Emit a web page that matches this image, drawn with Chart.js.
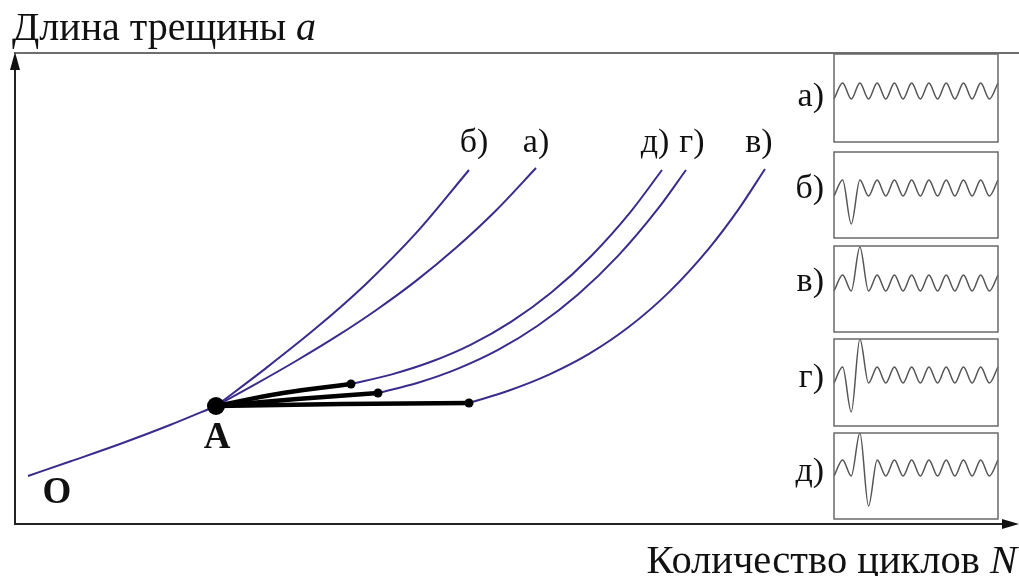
<!DOCTYPE html>
<html>
<head>
<meta charset="utf-8">
<script src="https://cdn.jsdelivr.net/npm/chart.js@4.4.1/dist/chart.umd.min.js"></script>
<style>
  html, body { margin: 0; padding: 0; background: #fff; overflow: hidden; }
  #wrap { position: relative; width: 1019px; height: 576px; }
  #wrap canvas { position: absolute; }
</style>
</head>
<body>
<div id="wrap">
  <canvas id="main" width="1019" height="576" style="left:0;top:0"></canvas>
</div>
<script>
// Crack length a versus number of load cycles N, schematic units.
// Each curve is a list of [N, a] points.
const growthOA = [[13, 48], [55, 62.5], [105, 80], [155, 99], [201, 118]];
const growthA  = [[201, 118], [241, 140.1], [281, 163], [321, 187.3], [361, 213.8], [401, 243.1],
                  [441, 276.2], [481, 313.5], [521, 356]];
const growthB  = [[201, 118], [251, 155.9], [301, 195.9], [351, 240.1], [401, 290.8], [454, 354]];
const growthV  = [[454, 121], [494, 133.5], [534, 149.4], [574, 170.1], [614, 197.2], [654, 231.9],
                  [694, 275.7], [724, 315.4], [750, 355]];
const growthG  = [[363, 131], [403, 141.3], [443, 155.4], [483, 174.1], [523, 198.5], [563, 229.5],
                  [603, 268.1], [643, 315.3], [671, 354]];
const growthD  = [[336, 140], [376, 149.4], [416, 162.2], [456, 179.4], [496, 202.1], [536, 231.2],
                  [576, 267.8], [616, 312.7], [647, 354]];

// Retardation after the overload applied at point A
const delayV = [[201, 118], [327, 120], [454, 121]];
const delayG = [[201, 118], [282, 125], [363, 131]];
const delayD = [[201, 118], [268, 131], [336, 140]];

const pointA = [201, 118];

const curveNames = ['а)', 'б)', 'в)', 'г)', 'д)'];

// Load histories: successive extrema of the stress signal (half-cycle steps)
const loadA = [-8, 8, -8, 8, -8, 8, -8, 8, -8, 8, -8, 8, -8, 8, -8, 8, -8, 8, -8, 8];
const loadB = [-8, 8, -36, 8, -8, 8, -8, 8, -8, 8, -8, 8, -8, 8, -8, 8, -8, 8, -8, 8];
const loadV = [-8, 8, -8, 36, -8, 8, -8, 8, -8, 8, -8, 8, -8, 8, -8, 8, -8, 8, -8, 8];
const loadG = [-8, 8, -37, 36, -8, 8, -8, 8, -8, 8, -8, 8, -8, 8, -8, 8, -8, 8, -8, 8];
const loadD = [-8, 8, -8, 35, -38, 8, -8, 8, -8, 8, -8, 8, -8, 8, -8, 8, -8, 8, -8, 8];

// ---- layout ----
const SERIF = '"Liberation Serif", "Times New Roman", serif';
const purple = '#3b2b8c';
const curveEnds = { 'а)': growthA, 'б)': growthB, 'в)': growthV, 'г)': growthG, 'д)': growthD };
const curveLabelShift = { 'а)': 0, 'б)': 5, 'в)': -6, 'г)': 6, 'д)': -7 };
const insetBoxes = [ // top, bottom, signal mid-line (page pixels)
  [54, 142, 91], [152, 238, 188], [246, 332, 283], [339, 426, 375], [433, 519, 468]
];
const insetLabelBase = [106, 198, 291, 387, 481];

const toXY = arr => arr.map(([x, y]) => ({ x, y }));

const frame = {
  id: 'frame',
  beforeDatasetsDraw(chart) {
    const { ctx, chartArea: a } = chart;
    ctx.save();
    ctx.strokeStyle = '#6e6e6e';
    ctx.lineWidth = 2;
    ctx.beginPath(); ctx.moveTo(a.left - 1, a.top); ctx.lineTo(a.right, a.top); ctx.stroke();
    ctx.strokeStyle = '#222';
    ctx.beginPath(); ctx.moveTo(a.left, a.bottom); ctx.lineTo(a.left, a.top + 10); ctx.stroke();
    ctx.beginPath(); ctx.moveTo(a.left - 1, a.bottom); ctx.lineTo(a.right - 10, a.bottom); ctx.stroke();
    ctx.fillStyle = '#111';
    ctx.beginPath();
    ctx.moveTo(a.left, a.top - 1); ctx.lineTo(a.left - 5, a.top + 17); ctx.lineTo(a.left + 5, a.top + 17);
    ctx.closePath(); ctx.fill();
    ctx.beginPath();
    ctx.moveTo(a.right, a.bottom); ctx.lineTo(a.right - 17, a.bottom - 5); ctx.lineTo(a.right - 17, a.bottom + 5);
    ctx.closePath(); ctx.fill();
    ctx.restore();
  },
  afterDraw(chart) {
    const { ctx, scales: { x, y } } = chart;
    ctx.save();
    ctx.fillStyle = '#111';
    ctx.textBaseline = 'alphabetic';

    // axis titles
    ctx.textAlign = 'left';
    ctx.font = '40px ' + SERIF;
    const yTitle = 'Длина трещины ';
    ctx.fillText(yTitle, 12, 40);
    const w1 = ctx.measureText(yTitle).width;
    ctx.font = 'italic 40px ' + SERIF;
    ctx.fillText('a', 12 + w1, 40);

    ctx.font = '40.5px ' + SERIF;
    const xTitle = 'Количество циклов ';
    const wx = ctx.measureText(xTitle).width;
    ctx.font = 'italic 40.5px ' + SERIF;
    const wn = ctx.measureText('N').width;
    const xStart = 1017 - wx - wn;
    ctx.fillText('N', xStart + wx, 573);
    ctx.font = '40.5px ' + SERIF;
    ctx.fillText(xTitle, xStart, 573);

    // point names
    ctx.textAlign = 'center';
    ctx.font = 'bold 37px ' + SERIF;
    ctx.fillText('O', x.getPixelForValue(growthOA[0][0]) + 29, y.getPixelForValue(growthOA[0][1]) + 27);
    ctx.fillText('A', x.getPixelForValue(pointA[0]) + 1, y.getPixelForValue(pointA[1]) + 42);

    // curve labels above the curve ends
    ctx.font = '34px ' + SERIF;
    curveNames.forEach(name => {
      const c = curveEnds[name];
      const end = c[c.length - 1];
      ctx.fillText(name, x.getPixelForValue(end[0]) + curveLabelShift[name], 152);
    });

    // load history labels
    ctx.textAlign = 'right';
    ctx.font = '34px ' + SERIF;
    curveNames.forEach((name, i) => ctx.fillText(name, 824, insetLabelBase[i]));
    ctx.restore();
  }
};

const lineStyle = (data, color, width) => ({
  data: toXY(data), borderColor: color, borderWidth: width,
  pointRadius: 0, cubicInterpolationMode: 'monotone', fill: false
});

// overload branches: thick black, smooth spline, dot where growth resumes
const overloadStyle = data => Object.assign(lineStyle(data, '#000', 4.5), {
  cubicInterpolationMode: 'default', tension: 0.5,
  pointRadius: data.map((_, i) => (i === data.length - 1 ? 4.5 : 0)),
  pointBackgroundColor: '#000', pointBorderWidth: 0
});

new Chart(document.getElementById('main'), {
  type: 'line',
  data: {
    datasets: [
      { data: [{ x: pointA[0], y: pointA[1] }], showLine: false, pointRadius: 9,
        pointBackgroundColor: '#000', pointBorderWidth: 0 },
      overloadStyle(delayD),
      overloadStyle(delayG),
      overloadStyle(delayV),
      lineStyle(growthOA, purple, 2),
      lineStyle(growthA, purple, 2),
      lineStyle(growthB, purple, 2),
      lineStyle(growthV, purple, 2),
      lineStyle(growthG, purple, 2),
      lineStyle(growthD, purple, 2)
    ]
  },
  options: {
    responsive: false,
    animation: false,
    events: [],
    layout: { autoPadding: false, padding: { left: 15, top: 53, right: 0, bottom: 52 } },
    plugins: { legend: { display: false }, tooltip: { enabled: false } },
    scales: {
      x: { type: 'linear', min: 0, max: 1004, display: false },
      y: { type: 'linear', min: 0, max: 471, display: false }
    }
  },
  plugins: [frame]
});

// Load history insets
const insetBorder = {
  id: 'insetBorder',
  afterDatasetsDraw(chart) {
    const { ctx, chartArea: a } = chart;
    ctx.save();
    ctx.strokeStyle = '#6a6a6a';
    ctx.lineWidth = 1.5;
    ctx.strokeRect(a.left, a.top, a.right - a.left, a.bottom - a.top);
    ctx.restore();
  }
};

const loads = [loadA, loadB, loadV, loadG, loadD];
const wrap = document.getElementById('wrap');
loads.forEach((values, i) => {
  const [top, bottom, mid] = insetBoxes[i];
  const cv = document.createElement('canvas');
  cv.width = 168;
  cv.height = bottom - top + 4;
  cv.style.left = '832px';
  cv.style.top = (top - 2) + 'px';
  wrap.appendChild(cv);
  new Chart(cv, {
    type: 'line',
    data: {
      labels: values.map((_, k) => k),
      datasets: [{ data: values, borderColor: '#555', borderWidth: 1.5, pointRadius: 0,
                   cubicInterpolationMode: 'monotone', fill: false }]
    },
    options: {
      responsive: false,
      animation: false,
      events: [],
      layout: { autoPadding: false, padding: 2 },
      plugins: { legend: { display: false }, tooltip: { enabled: false } },
      scales: {
        x: { type: 'category', display: false, offset: false },
        y: { type: 'linear', display: false, min: -(bottom - mid), max: mid - top }
      }
    },
    plugins: [insetBorder]
  });
});
</script>
</body>
</html>
